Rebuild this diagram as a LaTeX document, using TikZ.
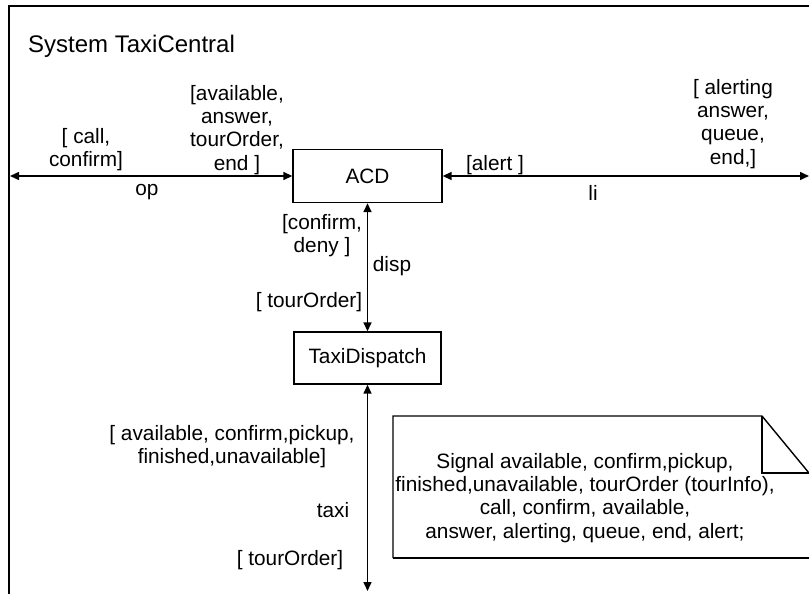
\documentclass[tikz,border=0pt]{standalone}
\usepackage{fontspec}
\setmainfont{Liberation Sans}
\usetikzlibrary{arrows.meta}
\begin{document}
\begin{tikzpicture}[x=1pt,y=-1pt,
  every node/.style={font=\fontsize{20.8}{23.2}\selectfont, inner sep=0pt, align=center},
  block/.style={draw, line width=1.4pt, fill=white},
  conn/.style={line width=1.5pt, {Triangle[length=9pt,width=8pt]}-{Triangle[length=9pt,width=8pt]}},
  lbl/.style={text=black}]
\useasboundingbox (0,0) rectangle (809,594);
% system frame
\draw[line width=2.8pt, line join=miter] (9,594) -- (9,6) -- (809,6);
\node[anchor=west, font=\fontsize{24}{28}\selectfont] (title) at (28,46) {System TaxiCentral};

% blocks
\node[block, minimum width=149pt, minimum height=53pt] (acd) at (367.5,176) {ACD};
\node[block, minimum width=147pt, minimum height=52pt] (td) at (367.5,358) {TaxiDispatch};

% free channel ends
\coordinate (opend) at (10,176);
\coordinate (liend) at (809,176);
\coordinate (taxiend) at (367.5,591);

% channels
\draw[conn] (opend) -- (acd.west);
\draw[conn] (acd.east) -- (liend);
\draw[conn] (acd.south) -- (td.north);
\draw[conn] (td.south) -- (taxiend);

% channel op
\node[lbl] (opin) at (86,150) {[ call,\\confirm]};
\node[lbl] (opout) at (237,130) {[available,\\answer,\\tourOrder,\\end ]};
\node[lbl] (opname) at (147,192) {op};

% channel li
\node[lbl] (liin) at (495,165) {[alert ]};
\node[lbl] (liout) at (733,124) {[ alerting\\answer,\\queue,\\end,]};
\node[lbl] (liname) at (593,193) {li};

% channel disp
\node[lbl] (dispup) at (322,236) {[confirm,\\deny ]};
\node[lbl] (dispname) at (392,266) {disp};
\node[lbl] (dispdown) at (309,302) {[ tourOrder]};

% channel taxi
\node[lbl] (taxiup) at (232,447) {[ available, confirm,pickup,\\finished,unavailable]};
\node[lbl] (taxiname) at (333,510) {taxi};
\node[lbl] (taxidown) at (290,560) {[ tourOrder]};

% signal declaration note
\draw[line width=1.4pt, line join=miter] (393,558) -- (393,416) -- (762,416) -- (809,473);
\draw[line width=1.4pt] (393,558) -- (809,558);
\draw[line width=1.4pt] (762,416) -- (762,473) -- (809,473);
\node[lbl] (signals) at (585,498) {Signal available, confirm,pickup,\\finished,unavailable, tourOrder (tourInfo),\\call, confirm, available,\\answer, alerting, queue, end, alert;};
\end{tikzpicture}
\end{document}
